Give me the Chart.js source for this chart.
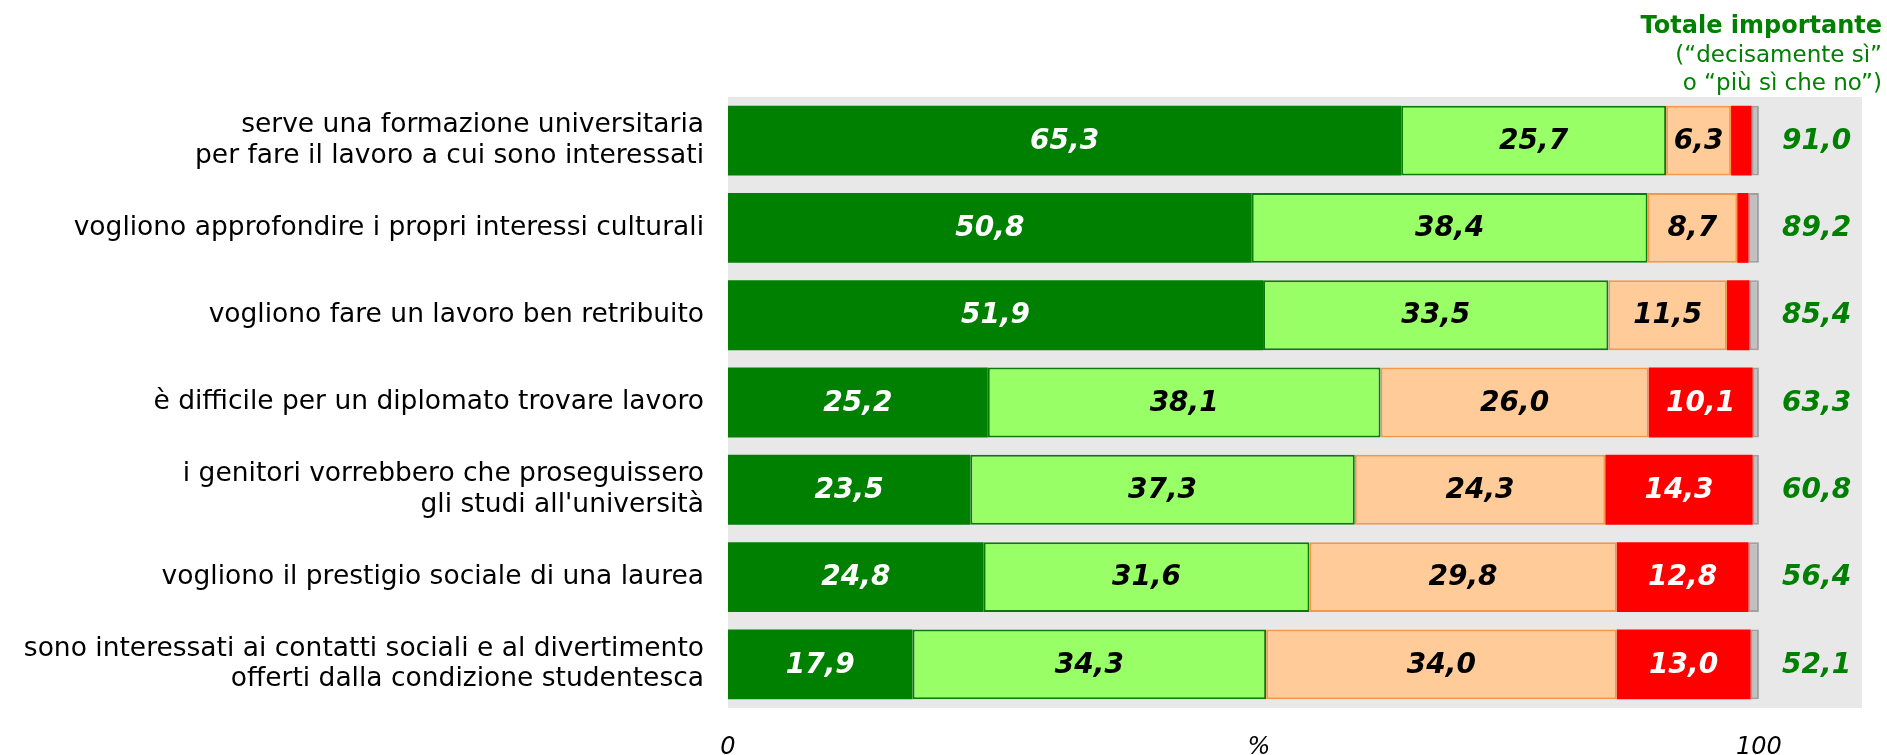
<!DOCTYPE html>
<html>
<head>
<meta charset="utf-8">
<script src="https://cdn.jsdelivr.net/npm/chart.js@4.4.1/dist/chart.umd.min.js"></script>
<style>
html, body { margin: 0; padding: 0; background: #fff; }
#wrap { width: 1887px; height: 755px; }
</style>
</head>
<body>
<div id="wrap"><canvas id="chart" width="1887" height="755"></canvas></div>
<script>
var labels = [
    ['serve una formazione universitaria', 'per fare il lavoro a cui sono interessati'],
    'vogliono approfondire i propri interessi culturali',
    'vogliono fare un lavoro ben retribuito',
    'è difficile per un diplomato trovare lavoro',
    ['i genitori vorrebbero che proseguissero', "gli studi all'università"],
    'vogliono il prestigio sociale di una laurea',
    ['sono interessati ai contatti sociali e al divertimento', 'offerti dalla condizione studentesca']
];
var decisamenteSi = [65.3, 50.8, 51.9, 25.2, 23.5, 24.8, 17.9];
var piuSiCheNo = [25.7, 38.4, 33.5, 38.1, 37.3, 31.6, 34.3];
var piuNoCheSi = [6.3, 8.7, 11.5, 26.0, 24.3, 29.8, 34.0];
var decisamenteNo = [2.0, 1.1, 2.2, 10.1, 14.3, 12.8, 13.0];
var nonRisponde = [0.7, 1.0, 0.9, 0.6, 0.6, 1.0, 0.8];
var totaleImportante = [91.0, 89.2, 85.4, 63.3, 60.8, 56.4, 52.1];
var tickValues = [0, 51.5, 100];
var tickLabels = ['0', '%', '100'];
var headerLines = ['Totale importante', '(\u201cdecisamente s\u00ec\u201d', 'o \u201cpi\u00f9 s\u00ec che no\u201d)'];

var FONT = '"DejaVu Sans", Verdana, sans-serif';
var GREEN_TEXT = '#008000';

function fmt(v) {
    return v.toFixed(1).replace('.', ',');
}

// gray plot background
var bgPlugin = {
    id: 'bg',
    beforeDraw: function (chart) {
        var a = chart.chartArea;
        var ctx = chart.ctx;
        ctx.save();
        ctx.fillStyle = '#e8e8e8';
        ctx.fillRect(a.left, a.top, a.right - a.left, a.bottom - a.top);
        ctx.restore();
    }
};

// numbers inside bars, totals on the right, header
var labelPlugin = {
    id: 'labels',
    afterDatasetsDraw: function (chart) {
        var ctx = chart.ctx;
        ctx.save();
        ctx.font = 'italic bold 28px ' + FONT;
        ctx.textAlign = 'center';
        ctx.textBaseline = 'middle';
        chart.data.datasets.forEach(function (ds, i) {
            if (!ds.labelColor) return;
            var meta = chart.getDatasetMeta(i);
            meta.data.forEach(function (el, j) {
                var v = ds.data[j];
                if (v < 5) return;
                ctx.fillStyle = ds.labelColor;
                ctx.fillText(fmt(v), (el.x + el.base) / 2, el.y + 1);
            });
        });

        // totals column
        var meta0 = chart.getDatasetMeta(0);
        var xt = chart.scales.x.getPixelForValue(105.6);
        ctx.fillStyle = GREEN_TEXT;
        totaleImportante.forEach(function (v, j) {
            ctx.fillText(fmt(v), xt, meta0.data[j].y + 1);
        });

        // header top right
        ctx.textAlign = 'right';
        ctx.textBaseline = 'alphabetic';
        var xr = chart.width - 5;
        ctx.font = 'bold 24px ' + FONT;
        ctx.fillText(headerLines[0], xr, 33);
        ctx.font = '23px ' + FONT;
        ctx.fillText(headerLines[1], xr, 62);
        ctx.fillText(headerLines[2], xr, 90);
        ctx.restore();
    }
};

var ctx = document.getElementById('chart').getContext('2d');
var chart = new Chart(ctx, {
    type: 'bar',
    data: {
        labels: labels,
        datasets: [{
            label: 'decisamente s\u00ec',
            data: decisamenteSi,
            backgroundColor: '#008000',
            borderWidth: 0,
            labelColor: '#ffffff'
        }, {
            label: 'pi\u00f9 s\u00ec che no',
            data: piuSiCheNo,
            backgroundColor: '#99ff66',
            borderColor: '#0a7a0a',
            borderWidth: 2,
            borderSkipped: false,
            labelColor: '#000000'
        }, {
            label: 'pi\u00f9 no che s\u00ec',
            data: piuNoCheSi,
            backgroundColor: '#ffcc99',
            borderColor: '#f79646',
            borderWidth: 2,
            borderSkipped: false,
            labelColor: '#000000'
        }, {
            label: 'decisamente no',
            data: decisamenteNo,
            backgroundColor: '#ff0000',
            borderWidth: 0,
            labelColor: '#ffffff'
        }, {
            label: 'non risponde',
            data: nonRisponde,
            backgroundColor: '#c0c0c0',
            borderColor: '#a0a0a0',
            borderWidth: 2,
            borderSkipped: false
        }]
    },
    options: {
        indexAxis: 'y',
        responsive: false,
        animation: false,
        maintainAspectRatio: false,
        layout: {padding: {top: 97, right: 25, left: 0, bottom: 0}},
        datasets: {
            bar: {categoryPercentage: 1, barPercentage: 0.8}
        },
        plugins: {
            legend: {display: false},
            tooltip: {enabled: false},
            title: {display: false}
        },
        scales: {
            x: {
                stacked: true,
                min: 0,
                max: 110,
                grid: {display: false, drawTicks: false},
                border: {display: false},
                afterBuildTicks: function (axis) {
                    axis.ticks = tickValues.map(function (v) { return {value: v}; });
                },
                afterFit: function (scale) {
                    scale.height = 47;
                    scale.paddingLeft = 0;
                    scale.paddingRight = 0;
                },
                ticks: {
                    autoSkip: false,
                    maxRotation: 0,
                    padding: 25,
                    color: '#000',
                    font: {family: FONT, size: 24, style: 'italic'},
                    callback: function (value) {
                        var k = tickValues.indexOf(value);
                        return k >= 0 ? tickLabels[k] : '';
                    }
                }
            },
            y: {
                stacked: true,
                grid: {display: false, drawTicks: false},
                border: {display: false},
                afterFit: function (scale) {
                    scale.width = 728;
                    scale.paddingTop = 0;
                    scale.paddingBottom = 0;
                },
                ticks: {
                    autoSkip: false,
                    padding: 24,
                    color: '#000',
                    font: {family: FONT, size: 26.5, lineHeight: 1.15}
                }
            }
        }
    },
    plugins: [bgPlugin, labelPlugin]
});
</script>
</body>
</html>
